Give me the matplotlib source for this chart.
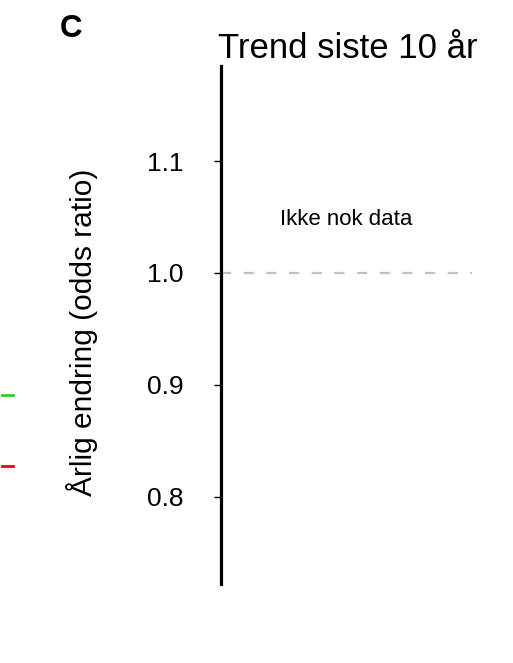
import matplotlib
matplotlib.use("Agg")
import matplotlib.pyplot as plt
from matplotlib.lines import Line2D

plt.rcParams['font.family'] = ['Liberation Sans', 'DejaVu Sans']

# panel values
panel = "C"
title = "Trend siste 10 år"
ylabel = "Årlig endring (odds ratio)"
yticks = [0.8, 0.9, 1.0, 1.1]
ylim = (0.722, 1.185)
ref_line = 1.0
msg = "Ikke nok data"
msg_y = 1.048

fig = plt.figure(figsize=(5.13, 6.63), dpi=100)
ax = fig.add_axes([0.4308, 0.1192, 0.4893, 0.7813])

ax.set_ylim(ylim)
ax.set_xlim(0, 1)
ax.set_yticks(yticks)
ax.set_yticklabels(["%.1f" % v for v in yticks], fontsize=19)
ax.set_xticks([])
ax.tick_params(axis='y', length=5, width=1, pad=22)

for s in ['top', 'right', 'bottom']:
    ax.spines[s].set_visible(False)
ax.spines['left'].set_linewidth(2.3)

# no-change reference
ax.axhline(ref_line, color='#c0c0c0', lw=1.6, dashes=(4.6, 5.6))

ax.text(0.5, msg_y, msg, ha='center', va='center', fontsize=16)

ax.text(-0.012, 1.0154, title, transform=ax.transAxes, ha='left',
        va='baseline', fontsize=25)
ax.text(-0.554, 0.486, ylabel, transform=ax.transAxes, rotation=90,
        ha='center', va='center', fontsize=21.5)
fig.text(60 / 513, 1 - 37 / 663, panel, fontsize=22.5, fontweight='bold',
         va='baseline')

# legend keys cut off at the left edge (from the neighbouring panel)
for yy, col in [(395, '#33cc33'), (466, '#ff0000')]:
    fig.add_artist(Line2D([2 / 513, 13 / 513], [1 - yy / 663] * 2,
                          color=col, lw=2, transform=fig.transFigure))

fig.savefig("out.png", dpi=100)
